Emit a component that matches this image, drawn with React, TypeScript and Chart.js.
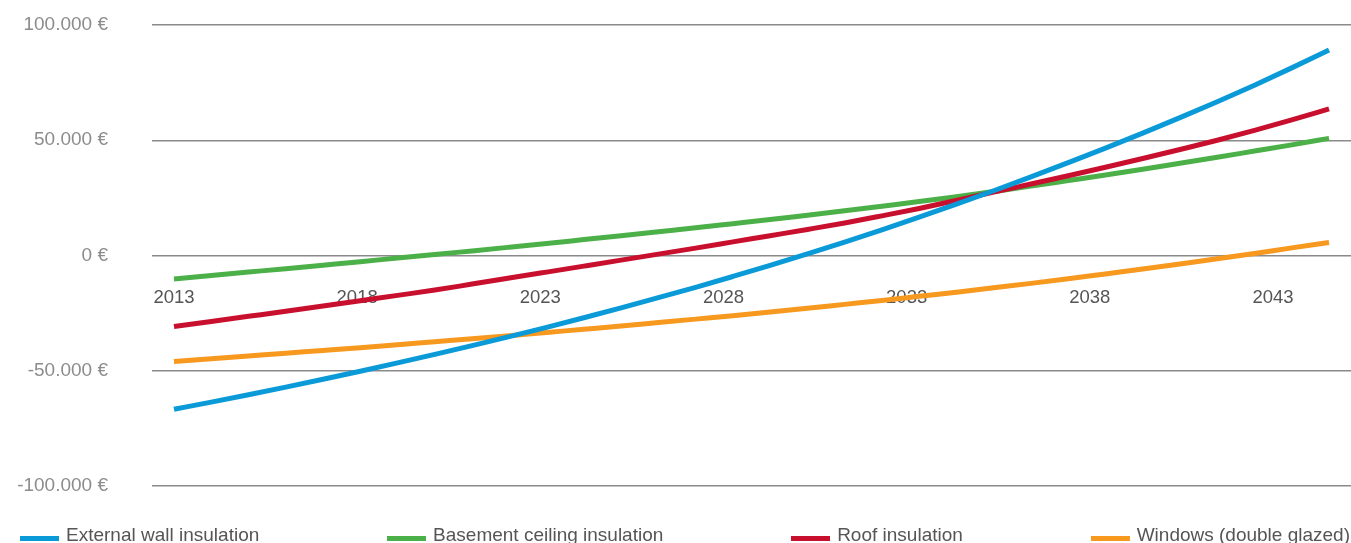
import React, { useEffect, useRef } from "react";
import { Chart, registerables } from "chart.js";

Chart.register(...registerables);

// Years of the projection (one point per year)
const years = [
  2013, 2014, 2015, 2016, 2017, 2018, 2019, 2020, 2021, 2022, 2023, 2024, 2025, 2026, 2027, 2028,
  2029, 2030, 2031, 2032, 2033, 2034, 2035, 2036, 2037, 2038, 2039, 2040, 2041, 2042, 2043, 2044,
];

// Labelled years on the horizontal axis
const tickYears = [2013, 2018, 2023, 2028, 2033, 2038, 2043];

// Value ticks on the vertical axis (€)
const yTicks = [-100000, -50000, 0, 50000, 100000];

const seriesNames = [
  "External wall insulation",
  "Basement ceiling insulation",
  "Roof insulation",
  "Windows (double glazed)",
];
const seriesColors = ["#0a9ad8", "#4cb049", "#c8102e", "#f7981f"];

// Cumulative balance per measure (€)
const externalWall = [
  -66700, -63600, -60400, -57100, -53700, -50200, -46600, -42900, -39100, -35200, -31200, -27000,
  -22700, -18300, -13800, -9100, -4300, 700, 5800, 11100, 16600, 22300, 28100, 34100, 40300,
  46600, 53100, 59800, 66700, 73900, 81400, 89200,
];
const basementCeiling = [
  -10200, -8700, -7200, -5700, -4200, -2700, -1100, 400, 2000, 3600, 5200, 6900, 8600, 10300,
  12000, 13800, 15600, 17500, 19400, 21400, 23400, 25500, 27800, 30100, 32500, 34900, 37400,
  40000, 42600, 45300, 48000, 50800,
];
const roof = [
  -30800, -28600, -26400, -24200, -21900, -19600, -17300, -15000, -12400, -9800, -7200, -4600,
  -2000, 600, 3200, 5900, 8600, 11300, 14100, 17200, 20400, 23900, 27500, 31000, 34600, 38300,
  42100, 46000, 50000, 54300, 58800, 63600,
];
const windows = [
  -46000, -44800, -43600, -42400, -41200, -40000, -38700, -37400, -36100, -34800, -33400, -32000,
  -30600, -29100, -27600, -26100, -24500, -22900, -21200, -19500, -17700, -15900, -14000, -12100,
  -10100, -8000, -5900, -3700, -1400, 900, 3300, 5600,
];

const series = [externalWall, basementCeiling, roof, windows];
// lower number is painted on top
const drawOrder = [0, 2, 1, 3];

const FONT = '"Liberation Sans", Arial, Helvetica, sans-serif';

function formatEuro(v: number): string {
  const digits = Math.abs(v)
    .toString()
    .replace(/\B(?=(\d{3})+(?!\d))/g, ".");
  return (v < 0 ? "-" : "") + digits + " €";
}

export default function App() {
  const canvasRef = useRef<HTMLCanvasElement | null>(null);

  useEffect(() => {
    const canvas = canvasRef.current;
    if (!canvas) return;

    const chart = new Chart(canvas, {
      type: "line",
      data: {
        datasets: series.map((vals, i) => ({
          label: seriesNames[i],
          data: years.map((yr, j) => ({ x: yr, y: vals[j] })),
          borderColor: seriesColors[i],
          backgroundColor: seriesColors[i],
          borderWidth: 5,
          pointRadius: 0,
          pointHoverRadius: 0,
          cubicInterpolationMode: "monotone" as const,
          borderCapStyle: "butt" as const,
          order: drawOrder[i],
          xAxisID: "x",
          yAxisID: "y",
        })),
      },
      options: {
        responsive: false,
        animation: false,
        devicePixelRatio: 1,
        layout: { padding: { left: 0, right: 0, top: 25, bottom: 57 } },
        plugins: {
          legend: { display: false },
          tooltip: { enabled: false },
        },
        scales: {
          x: {
            type: "linear",
            min: 2012.41,
            max: 2044.59,
            display: false,
          },
          xLabels: {
            type: "linear",
            axis: "x",
            position: { y: 0 },
            min: 2012.4,
            max: 2045.13,
            grid: { display: false, drawTicks: false },
            border: { display: false },
            ticks: {
              autoSkip: false,
              maxRotation: 0,
              padding: 31,
              color: "#555555",
              font: { family: FONT, size: 18.5 },
              callback: (v: any) => String(v),
            },
            afterBuildTicks: (s: any) => {
              s.ticks = tickYears.map((v) => ({ value: v }));
            },
            afterFit: (s: any) => {
              s.height = 0;
            },
          },
          y: {
            type: "linear",
            min: -100000,
            max: 100000,
            afterBuildTicks: (s: any) => {
              s.ticks = yTicks.map((v) => ({ value: v }));
            },
            afterFit: (s: any) => {
              s.width = 152;
              s.paddingTop = 0;
              s.paddingBottom = 0;
            },
            grid: { color: "#8a8a8a", lineWidth: 1.5, drawTicks: false },
            border: { display: false },
            ticks: {
              padding: 44,
              color: "#8c8c8c",
              font: { family: FONT, size: 19 },
              callback: (v: any) => formatEuro(Number(v)),
            },
          },
        } as any,
      },
    });

    return () => chart.destroy();
  }, []);

  return (
    <div
      style={{
        position: "fixed",
        left: 0,
        top: 0,
        width: 1351,
        height: 543,
        overflow: "hidden",
        background: "#ffffff",
      }}
    >
      <canvas ref={canvasRef} width={1351} height={543} style={{ display: "block" }} />
      <div
        style={{
          position: "absolute",
          left: 20,
          right: 1,
          top: 524,
          display: "flex",
          justifyContent: "space-between",
          fontFamily: FONT,
          fontSize: 19,
          lineHeight: "22px",
          color: "#555555",
        }}
      >
        {seriesNames.map((name, i) => (
          <div key={name} style={{ display: "flex", alignItems: "center", whiteSpace: "nowrap" }}>
            <span
              style={{
                display: "inline-block",
                width: 39,
                height: 5,
                background: seriesColors[i],
                marginRight: 7,
                position: "relative",
                top: 3,
              }}
            />
            <span>{name}</span>
          </div>
        ))}
      </div>
    </div>
  );
}
